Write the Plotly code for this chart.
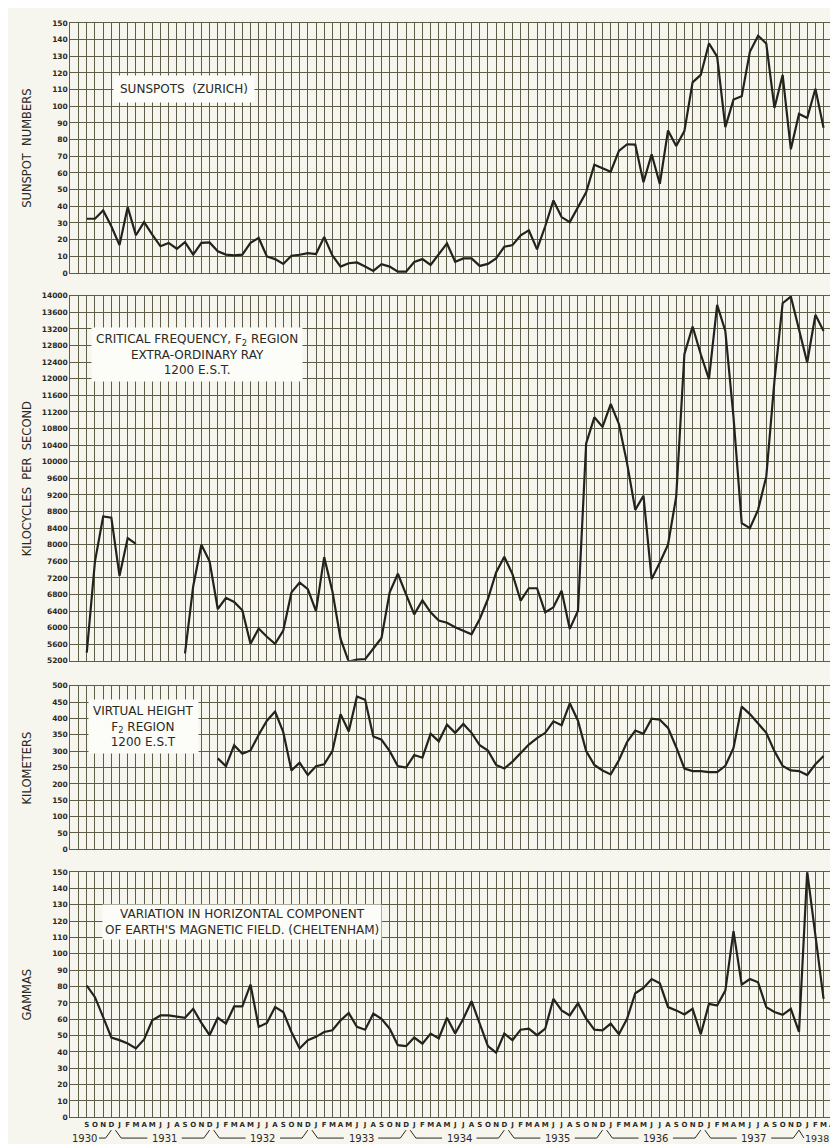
import plotly.graph_objects as go

# ---------------- data (month index 0 = Sep 1930 ... 90 = Mar 1938) ----------------
MONTH_INITIALS = ["J", "F", "M", "A", "M", "J", "J", "A", "S", "O", "N", "D"]
START_YEAR, START_MONTH = 1930, 9     # first plotted month
N_POINTS = 91                          # Sep 1930 .. Mar 1938
AXIS_FIRST, AXIS_LAST = -2, 91         # Jul 1930 .. Apr 1938 (grid frame)
YEARS = [1930, 1931, 1932, 1933, 1934, 1935, 1936, 1937, 1938]

sunspots = [32.5, 32.5, 37.5, 28, 16.7, 39.5, 22.6, 30.5, 23, 16, 18, 14.5, 18.5, 11, 18, 18.3,
            13, 11, 10.5, 11, 18, 21, 9.9, 8.3, 5.4, 10.3, 10.9, 11.9, 11.3, 21.6, 10.5, 3.8,
            5.8, 6.3, 3.8, 1.2, 5.2, 3.8, 0.8, 0.8, 6.6, 8.3, 4.8, 11, 17.7, 6.7, 8.7, 8.7,
            4.2, 5.4, 8.7, 15.7, 16.7, 22.6, 25.6, 14.1, 28, 43.5, 33.5, 30.5, 39.5, 48.4,
            64.9, 62.8, 60.7, 73.2, 77.2, 77, 54.4, 71.2, 53.4, 85.5, 76.2, 85.1, 114.3, 118.8,
            137.7, 129.8, 87.5, 104, 106, 132.7, 142.3, 137.7, 99, 118.8, 74.2, 95.4, 93, 110.5, 87.1]

critical_freq = [5400, 7600, 8680, 8650, 7250, 8160, 8020, None, None, None, None, None,
                 5380, 7000, 8000, 7600, 6450, 6720, 6620, 6420, 5610, 5980, 5780, 5610,
                 5930, 6850, 7090, 6930, 6400, 7700, 6880, 5730, 5180, 5230, 5240, 5500,
                 5750, 6850, 7300, 6800, 6320, 6660, 6370, 6170, 6120, 6010, 5930, 5840,
                 6210, 6690, 7330, 7710, 7290, 6650, 6950, 6950, 6370, 6490, 6890, 5970,
                 6410, 10440, 11070, 10840, 11390, 10910, 9960, 8840, 9180, 7170, 7570, 8000,
                 9160, 12590, 13260, 12590, 11990, 13780, 13150, 11070, 8520, 8400, 8840, 9640,
                 11950, 13820, 13980, 13150, 12390, 13540, 13150]

virtual_height = [None] * 16 + [
    278, 254, 318, 292, 302, 350, 393, 421, 358, 241, 265, 227, 254, 260, 300, 413,
    360, 467, 457, 345, 335, 300, 254, 250, 288, 280, 353, 330, 381, 356, 383, 356,
    318, 302, 258, 247, 268, 295, 320, 340, 356, 391, 379, 446, 393, 300, 258, 241,
    229, 272, 328, 363, 353, 399, 396, 371, 312, 247, 239, 239, 236, 236, 255, 310,
    436, 413, 386, 356, 300, 255, 241, 239, 227, 260, 285]

gammas = [80.6, 73.5, 61.3, 48.8, 47.2, 45.1, 42.1, 47.6, 59.3, 62.3, 62.3, 61.7, 60.9, 66.4,
          57.7, 50.2, 60.9, 57.3, 67.8, 67.8, 81.2, 55.3, 57.7, 67.4, 64.4, 52.2, 42.1, 47.2,
          49.2, 52.2, 53.2, 59.3, 63.8, 55.3, 53.6, 63.4, 60.3, 54.2, 44.1, 43.5, 48.8, 45,
          51.2, 48.2, 60.9, 51.2, 60.3, 71.0, 57.3, 43.5, 39.5, 51.2, 47.2, 53.6, 54.2, 50.2,
          54.2, 72.5, 65.4, 62.3, 69.8, 60.3, 53.6, 53.2, 57.3, 50.8, 60.3, 75.9, 79.1, 84.6,
          82.0, 67.4, 65.4, 62.9, 66.4, 50.8, 69.4, 68.4, 77.5, 113.9, 81.2, 84.6, 82.6, 67.4,
          64.4, 62.7, 66.4, 52.2, 150.4, 110.9, 72.5]

panel_titles = [
    "SUNSPOTS  (ZURICH)",
    "CRITICAL FREQUENCY, F<sub>2</sub> REGION<br>EXTRA-ORDINARY RAY<br>1200 E.S.T.",
    "VIRTUAL HEIGHT<br>F<sub>2</sub> REGION<br>1200 E.S.T",
    "VARIATION IN HORIZONTAL COMPONENT<br>OF EARTH'S MAGNETIC FIELD. (CHELTENHAM)",
]
axis_titles = ["SUNSPOT  NUMBERS", "KILOCYCLES  PER  SECOND", "KILOMETERS", "GAMMAS"]

# ---------------- derived ----------------
x = list(range(N_POINTS))
tickvals = list(range(AXIS_FIRST, AXIS_LAST + 1))
ticktext = []
for v in tickvals:
    m = (START_MONTH - 1 + v) % 12
    ticktext.append(MONTH_INITIALS[m] if v >= 0 else " ")

W, H = 838, 1144
def py(px):  # figure pixel (from top) -> paper
    return 1 - px / H
def pxx(px):
    return px / W

BG = "#f7f6ee"
GRID = "#5e5e48"
LINE = "#23231d"
TXT = "#2a2a24"
FONT = "DejaVu Sans"

x_dom = [pxx(61.7), pxx(826.7)]
panels = [  # (top px, bottom px, y range, dtick)
    (11, 263, [0, 150], 10),
    (286, 654, [5200, 14000], 400),
    (679, 844, [0, 500], 50),
    (867, 1114, [0, 150], 10),
]
series = [sunspots, critical_freq, virtual_height, gammas]

fig = go.Figure()
layout = dict(width=W, height=H, margin=dict(l=0, r=0, t=0, b=0),
              paper_bgcolor=BG, plot_bgcolor=BG, showlegend=False,
              font=dict(family=FONT, color=TXT))

for k, (top, bot, yr, dt) in enumerate(panels):
    n = "" if k == 0 else str(k + 1)
    fig.add_trace(go.Scatter(x=x, y=series[k], mode="lines", connectgaps=False,
                             line=dict(color=LINE, width=2.2),
                             xaxis="x" + n, yaxis="y" + n, hoverinfo="skip"))
    last = (k == 3)
    layout["xaxis" + n] = dict(
        domain=x_dom, range=[AXIS_FIRST, AXIS_LAST], anchor="y" + n,
        tickmode="array", tickvals=tickvals,
        ticktext=ticktext if last else [" "] * len(tickvals),
        showticklabels=last, tickangle=0, ticks="",
        tickfont=dict(size=7, family=FONT, weight="bold", color=TXT),
        showgrid=True, gridcolor=GRID, gridwidth=1,
        showline=True, linecolor=GRID, linewidth=1.2, mirror=True, zeroline=False)
    layout["yaxis" + n] = dict(
        domain=[py(bot), py(top)], range=yr, anchor="x" + n,
        tick0=yr[0], dtick=dt, ticks="", tickformat="d",
        tickfont=dict(size=7.5, family=FONT, weight="bold", color=TXT),
        showgrid=True, gridcolor=GRID, gridwidth=1,
        showline=True, linecolor=GRID, linewidth=1.2, mirror=True, zeroline=False)

annotations = []
# axis titles
for k, (top, bot, yr, dt) in enumerate(panels):
    annotations.append(dict(text=axis_titles[k], xref="paper", yref="paper",
                            x=pxx(18), y=py((top + bot) / 2), showarrow=False,
                            textangle=-90, font=dict(size=11.5, family=FONT, color=TXT),
                            xanchor="center", yanchor="middle"))
# panel titles (white boxes)
title_pos = [(176, 78, 6), (189, 345, 4), (135.5, 720, 4), (234, 917.5, 2)]
for k, (cx, cy, pad) in enumerate(title_pos):
    annotations.append(dict(text=panel_titles[k], xref="paper", yref="paper",
                            x=pxx(cx), y=py(cy), showarrow=False, align="center",
                            xanchor="center", yanchor="middle",
                            bgcolor="#fcfcf8", borderpad=pad,
                            font=dict(size=12, family=FONT, color=TXT)))

# year labels + bracket lines below bottom axis
shapes = []
y_top, y_bot = py(1127), py(1135)
YFONT = dict(size=10, family=FONT, color=TXT)
def seg(x0, y0, x1, y1):
    shapes.append(dict(type="line", xref="x4", yref="paper", x0=x0, y0=y0, x1=x1, y1=y1,
                       line=dict(color=TXT, width=1)))

for yr_ in YEARS:
    if yr_ == START_YEAR:
        e = 12 - START_MONTH  # Dec index
        annotations.append(dict(text=str(yr_), xref="x4", yref="paper", x=-0.3, y=y_bot,
                                showarrow=False, xanchor="center", yanchor="middle",
                                font=YFONT, borderpad=0))
        seg(1.5, y_bot, e - 0.7, y_bot)
        seg(e - 0.7, y_bot, e, y_top)
    elif yr_ == YEARS[-1]:
        s = (yr_ - START_YEAR) * 12 - (START_MONTH - 1)
        seg(s - 1.0, y_top, s - 0.4, y_bot)
        annotations.append(dict(text=str(yr_), xref="x4", yref="paper", x=s - 0.35, y=y_bot,
                                showarrow=False, xanchor="left", yanchor="middle",
                                font=dict(size=9.5, family=FONT, color=TXT), borderpad=0))
    else:
        s = (yr_ - START_YEAR) * 12 - (START_MONTH - 1)
        e = s + 11
        c = (s + e) / 2
        seg(s - 0.5, y_top, s + 0.2, y_bot)
        seg(s + 0.2, y_bot, c - 2.1, y_bot)
        seg(c + 2.1, y_bot, e - 0.7, y_bot)
        seg(e - 0.7, y_bot, e, y_top)
        annotations.append(dict(text=str(yr_), xref="x4", yref="paper", x=c, y=y_bot,
                                showarrow=False, xanchor="center", yanchor="middle",
                                font=YFONT, borderpad=0))

layout["annotations"] = annotations
layout["shapes"] = shapes
fig.update_layout(**layout)
fig.write_html("out.html")
